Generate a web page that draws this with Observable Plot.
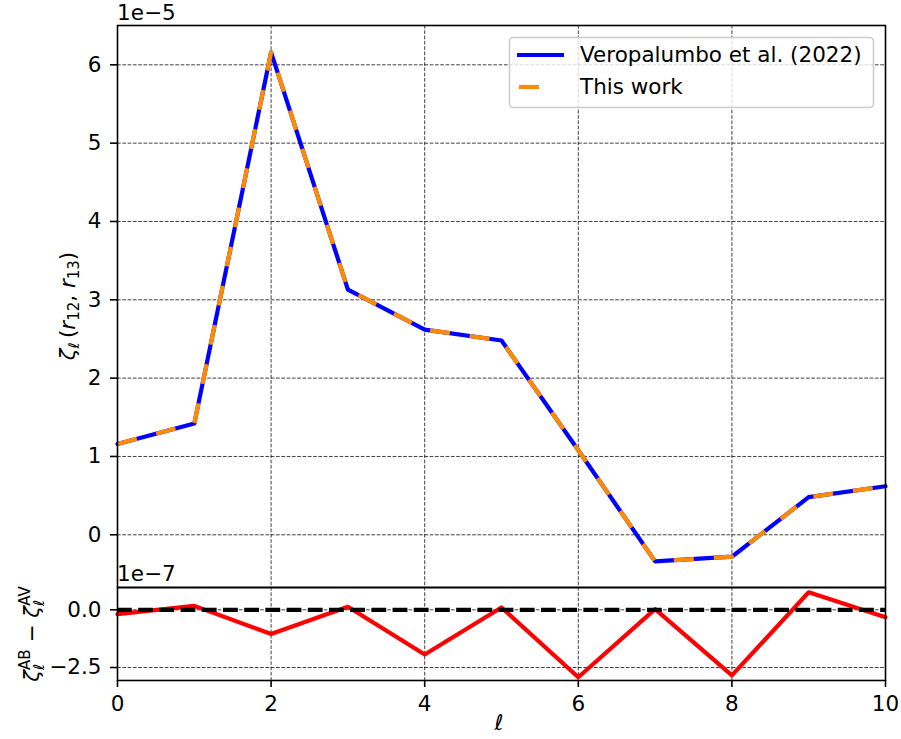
<!DOCTYPE html>
<html>
<head>
<meta charset="utf-8">
<script src="https://cdn.jsdelivr.net/npm/d3@7"></script>
<script src="https://cdn.jsdelivr.net/npm/@observablehq/plot@0.6"></script>
<style>
  html, body { margin: 0; padding: 0; background: #fff; }
  #fig { position: relative; width: 901px; height: 739px; background: #fff; overflow: hidden; }
  #fig svg { position: absolute; left: 0; overflow: visible; }
</style>
</head>
<body>
<div id="fig"></div>
<script>
// Multipole index ℓ
const ell = [0, 1, 2, 3, 4, 5, 6, 7, 8, 9, 10];
// ζ_ℓ(r12, r13) in units of 1e-5
const veropalumbo = [1.16, 1.42, 6.16, 3.13, 2.62, 2.48, 1.08, -0.34, -0.28, 0.48, 0.62];
const thisWork    = [1.16, 1.42, 6.16, 3.13, 2.62, 2.48, 1.08, -0.34, -0.28, 0.48, 0.62];
// ζ_ℓ^AB − ζ_ℓ^AV in units of 1e-7
const difference  = [-0.19, 0.17, -1.05, 0.13, -1.94, 0.10, -2.92, 0.03, -2.84, 0.76, -0.32];

const topTicks = [0, 1, 2, 3, 4, 5, 6];
const bottomTicks = [-2.5, 0];
const xTicks = [0, 2, 4, 6, 8, 10];
const seriesNames = ["Veropalumbo et al. (2022)", "This work"];

const rows = ell.map((l, i) => ({ell: l, v: veropalumbo[i], w: thisWork[i], d: difference[i]}));

const FONT = "DejaVu Sans";
const FS = 21.5;
const SUB = 15;
const plotStyle = {fontFamily: FONT, fontSize: FS + "px", color: "black", background: "transparent", overflow: "visible"};
const gridOpts = {stroke: "#000", strokeOpacity: 0.75, strokeWidth: 1, strokeDasharray: "3.7,1.6"};
const minus = s => String(s).replace("-", "\u2212");

const fig = document.getElementById("fig");

// Upper panel: the correlation multipoles
const upperPlot = Plot.plot({
  width: 901, height: 587,
  marginLeft: 117, marginRight: 16, marginTop: 25, marginBottom: 0,
  style: plotStyle,
  x: {domain: [0, 10], axis: null},
  y: {domain: [-0.673, 6.502], axis: null},
  marks: [
    Plot.gridX(xTicks, gridOpts),
    Plot.gridY(topTicks, gridOpts),
    Plot.line(rows, {x: "ell", y: "v", stroke: "blue", strokeWidth: 4.2}),
    Plot.line(rows, {x: "ell", y: "w", stroke: "darkorange", strokeWidth: 4.2, strokeDasharray: "20,20", strokeLinecap: "butt"}),
    Plot.axisY(topTicks, {anchor: "left", tickSize: 7, tickPadding: 9, strokeWidth: 1.6, fontSize: FS, label: null, tickFormat: d => minus(d)}),
    Plot.frame({stroke: "black", strokeWidth: 1.6})
  ]
});
upperPlot.style.top = "0px";
fig.appendChild(upperPlot);

// Lower panel: residuals between the two implementations
const lowerPlot = Plot.plot({
  width: 901, height: 152,
  marginLeft: 117, marginRight: 16, marginTop: 0, marginBottom: 59,
  style: plotStyle,
  x: {domain: [0, 10], axis: null},
  y: {domain: [-3.063, 0.966], axis: null},
  marks: [
    Plot.gridX(xTicks, gridOpts),
    Plot.gridY(bottomTicks, gridOpts),
    Plot.line(rows, {x: "ell", y: "d", stroke: "red", strokeWidth: 4.2}),
    Plot.ruleY([0], {stroke: "black", strokeWidth: 4.2, strokeDasharray: "14.8,6.4", strokeLinecap: "butt"}),
    Plot.axisY(bottomTicks, {anchor: "left", tickSize: 7, tickPadding: 9, strokeWidth: 1.6, fontSize: FS, label: null, tickFormat: d => minus(d.toFixed(1))}),
    Plot.axisX(xTicks, {anchor: "bottom", tickSize: 7, tickPadding: 8, strokeWidth: 1.6, fontSize: FS, label: null, tickFormat: d => String(d)}),
    Plot.frame({stroke: "black", strokeWidth: 1.6})
  ]
});
lowerPlot.style.top = "587px";
fig.appendChild(lowerPlot);

// Annotations: offsets, axis labels, legend
const svgTop = d3.select(upperPlot);
const svgBot = d3.select(lowerPlot);

function label(sel, x, y, s) {
  return sel.append("text").attr("x", x).attr("y", y)
    .attr("font-family", FONT).attr("font-size", FS).attr("text-anchor", "start").text(s);
}
label(svgTop, 117, 20, "1e\u22125");
label(svgTop, 117, 581, "1e\u22127");

// rich text helper: parts = [text, {italic, size, dx, dy}]
function rich(sel, x, y, rotate, parts) {
  const t = sel.append("text")
    .attr("font-family", FONT).attr("font-size", FS)
    .attr("text-anchor", "middle")
    .attr("transform", `translate(${x},${y})` + (rotate ? ` rotate(${rotate})` : ""));
  for (const [s, o] of parts) {
    const sp = t.append("tspan").text(s);
    if (o.italic) sp.attr("font-style", "italic");
    if (o.size) sp.attr("font-size", o.size);
    if (o.dx) sp.attr("dx", o.dx);
    if (o.dy) sp.attr("dy", o.dy);
  }
  return t;
}

// ζ_ℓ(r_12, r_13)
rich(svgTop, 75, 306, -90, [
  ["\u03b6", {italic: true}],
  ["\u2113", {italic: true, size: SUB, dy: 4}],
  ["\u2009(", {dy: -4}],
  ["r", {italic: true}],
  ["12", {size: SUB, dy: 4}],
  [", ", {dy: -4}],
  ["r", {italic: true}],
  ["13", {size: SUB, dy: 4}],
  [")", {dy: -4}]
]);

// ζ_ℓ^AB − ζ_ℓ^AV
rich(svgBot, 39, 47, -90, [
  ["\u03b6", {italic: true}],
  ["\u2113", {italic: true, size: SUB, dy: 5}],
  ["AB", {size: SUB, dx: -6, dy: -14}],
  [" \u2212 ", {dy: 9}],
  ["\u03b6", {italic: true}],
  ["\u2113", {italic: true, size: SUB, dy: 5}],
  ["AV", {size: SUB, dx: -6, dy: -14}]
]);

// x label
rich(svgBot, 499, 143, 0, [["\u2113", {italic: true}]]);

// legend
const lg = svgTop.append("g");
lg.append("rect").attr("x", 509.5).attr("y", 37.5).attr("width", 364).attr("height", 70).attr("rx", 4)
  .attr("fill", "white").attr("fill-opacity", 0.8).attr("stroke", "#cccccc").attr("stroke-width", 1.6);
lg.append("line").attr("x1", 517).attr("x2", 564).attr("y1", 55).attr("y2", 55)
  .attr("stroke", "blue").attr("stroke-width", 4.2);
lg.append("line").attr("x1", 519).attr("x2", 545).attr("y1", 87).attr("y2", 87)
  .attr("stroke", "darkorange").attr("stroke-width", 4.2).attr("stroke-dasharray", "20,20");
label(lg, 580, 62, seriesNames[0]);
label(lg, 580, 94, seriesNames[1]);
</script>
</body>
</html>
